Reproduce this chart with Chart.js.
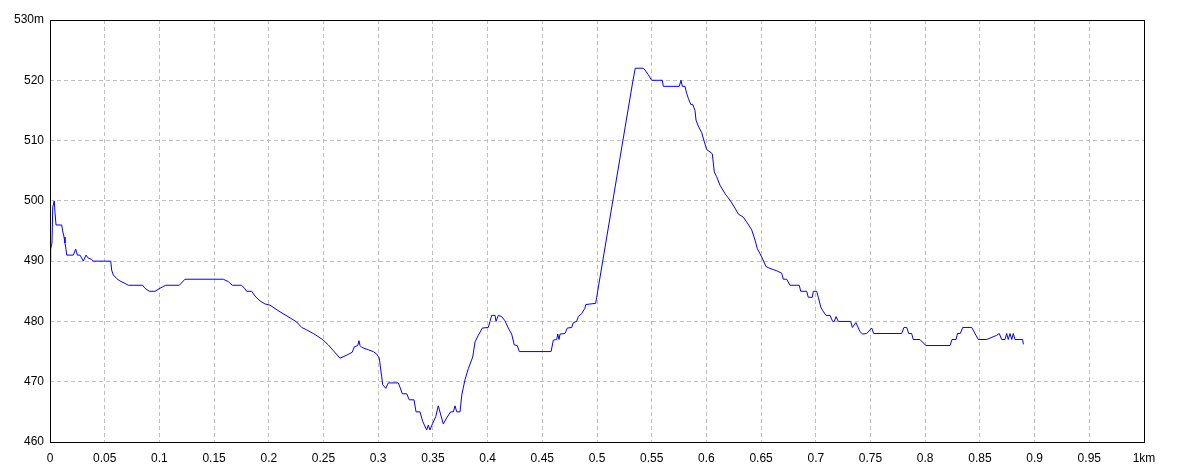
<!DOCTYPE html>
<html>
<head>
<meta charset="utf-8">
<script src="https://cdn.jsdelivr.net/npm/chart.js@4"></script>
<style>
  html, body { margin: 0; padding: 0; background: #fff; }
  #wrap { width: 1184px; height: 473px; }
</style>
</head>
<body>
<div id="wrap"><canvas id="profile" width="1184" height="473"></canvas></div>
<script>
// distance along the track (km)
const distKm = [
  0.0003, 0.0006, 0.0018, 0.0025, 0.0039, 0.0046, 0.0055, 0.0107, 0.0116, 0.0128,
  0.0137, 0.0146, 0.0153, 0.0213, 0.0235, 0.0250, 0.0274, 0.0290, 0.0304, 0.0329,
  0.0350, 0.0381, 0.0396, 0.0555, 0.0564, 0.0579, 0.0610, 0.0640, 0.0686, 0.0716,
  0.0847, 0.0868, 0.0908, 0.0960, 0.1005, 0.1058, 0.1182, 0.1234, 0.1584, 0.1630,
  0.1666, 0.1752, 0.1782, 0.1798, 0.1844, 0.1874, 0.1920, 0.1965, 0.2011, 0.2102,
  0.2194, 0.2255, 0.2301, 0.2346, 0.2407, 0.2484, 0.2544, 0.2651, 0.2712, 0.2763,
  0.2782, 0.2813, 0.2824, 0.2834, 0.2849, 0.2910, 0.2955, 0.2986, 0.3010, 0.3032,
  0.3041, 0.3069, 0.3092, 0.3184, 0.3199, 0.3220, 0.3261, 0.3284, 0.3327, 0.3346,
  0.3382, 0.3407, 0.3443, 0.3458, 0.3473, 0.3498, 0.3526, 0.3549, 0.3595, 0.3626,
  0.3663, 0.3687, 0.3702, 0.3718, 0.3748, 0.3764, 0.3793, 0.3824, 0.3864, 0.3885,
  0.3915, 0.3952, 0.4006, 0.4022, 0.4037, 0.4068, 0.4077, 0.4098, 0.4129, 0.4159,
  0.4189, 0.4220, 0.4244, 0.4271, 0.4290, 0.4580, 0.4601, 0.4632, 0.4641, 0.4653,
  0.4662, 0.4707, 0.4729, 0.4769, 0.4783, 0.4814, 0.4829, 0.4860, 0.4890, 0.4897,
  0.4988, 0.4997, 0.5329, 0.5350, 0.5423, 0.5439, 0.5469, 0.5500, 0.5597, 0.5606,
  0.5752, 0.5768, 0.5780, 0.5804, 0.5820, 0.5835, 0.5857, 0.5875, 0.5896, 0.5905,
  0.5926, 0.5957, 0.5981, 0.6003, 0.6042, 0.6054, 0.6072, 0.6094, 0.6124, 0.6170,
  0.6216, 0.6261, 0.6292, 0.6337, 0.6368, 0.6414, 0.6444, 0.6465, 0.6505, 0.6545,
  0.6581, 0.6643, 0.6688, 0.6703, 0.6734, 0.6764, 0.6849, 0.6862, 0.6917, 0.6931,
  0.6968, 0.6977, 0.7008, 0.7023, 0.7045, 0.7063, 0.7093, 0.7130, 0.7154, 0.7169,
  0.7185, 0.7206, 0.7319, 0.7334, 0.7367, 0.7404, 0.7429, 0.7465, 0.7511, 0.7529,
  0.7785, 0.7806, 0.7831, 0.7849, 0.7876, 0.7891, 0.7952, 0.8007, 0.8227, 0.8245,
  0.8282, 0.8295, 0.8321, 0.8343, 0.8425, 0.8485, 0.8562, 0.8654, 0.8677, 0.8699,
  0.8729, 0.8745, 0.8759, 0.8775, 0.8791, 0.8805, 0.8821, 0.8891, 0.8897
];

// elevation (m)
const elevM = [
  490, 492, 493, 499, 500, 498, 496, 496, 495, 494,
  493, 492, 491, 491, 492, 491, 491, 490.5, 490, 491,
  490.5, 490.3, 490, 490, 488.5, 487.7, 487.1, 486.7, 486.3, 486,
  486, 485.5, 485, 485, 485.5, 486, 486, 487, 487, 486.6,
  486, 486, 485.4, 485, 485, 484.2, 483.4, 482.9, 482.7, 481.6,
  480.6, 479.9, 479, 478.6, 478, 477.1, 476.1, 473.9, 474.4, 474.9,
  475.8, 476, 476.8, 476, 475.7, 475.3, 475, 474.6, 473.9, 470.8,
  469.5, 468.9, 469.8, 469.8, 469.1, 468, 468, 467, 467, 465,
  465, 463.4, 462, 462.8, 462, 463.1, 464.2, 466, 463, 464,
  465, 465, 466, 465, 465, 467.8, 470.3, 472.2, 474.1, 476.6,
  477.7, 478.9, 479, 480, 481, 481, 480, 481, 480.8, 480.1,
  478.9, 477.9, 476.1, 476, 475, 475, 476.9, 477, 477.9, 477,
  477.9, 478, 478.9, 479, 479.8, 480, 480.8, 481.3, 482.2, 482.8,
  483, 484, 520, 522, 522, 521.7, 520.9, 520, 520, 519,
  519, 520, 519, 519, 517.8, 517, 516, 516, 515, 513.4,
  512.4, 511.3, 509.8, 508.5, 508, 507.8, 504.8, 504, 502.6, 501.2,
  500.1, 498.8, 497.8, 497.3, 496.5, 495.2, 493.5, 492.1, 490.7, 489.1,
  488.8, 488.4, 488, 487, 487, 486, 486, 485, 485, 484,
  484, 485, 485, 484, 482.4, 481.8, 481, 481, 480, 480,
  480.8, 480, 480, 479, 479.8, 478.3, 477.9, 478, 478.9, 478,
  478, 479, 479, 478, 478, 477, 477, 476, 476, 477,
  477, 478, 478, 479, 479, 477, 477, 477.7, 478, 477,
  477, 478, 477, 478, 477, 478, 477, 477, 476.2
];

const xTicks = { min: 0, max: 1, step: 0.05, unit: 'km' };
const yTicks = { min: 460, max: 530, step: 10, unit: 'm' };

const frameBox = {
  id: 'frameBox',
  afterDatasetsDraw(chart) {
    const { ctx, chartArea: a } = chart;
    ctx.save();
    ctx.strokeStyle = '#000';
    ctx.lineWidth = 1;
    const l = Math.round(a.left) + 0.5, t = Math.round(a.top) + 0.5;
    const r = Math.round(a.right) + 0.5, b = Math.round(a.bottom) + 0.5;
    ctx.strokeRect(l, t, r - l, b - t);
    ctx.restore();
  }
};

const font = { family: 'Liberation Sans, Arial, sans-serif', size: 12 };

new Chart(document.getElementById('profile').getContext('2d'), {
  type: 'line',
  data: {
    datasets: [{
      data: distKm.map((d, i) => ({ x: d, y: elevM[i] })),
      borderColor: '#0000ff',
      borderWidth: 1,
      pointRadius: 0,
      tension: 0,
      fill: false
    }]
  },
  options: {
    responsive: false,
    animation: false,
    layout: { padding: { top: 20, right: 40, left: 0, bottom: 0 } },
    plugins: { legend: { display: false }, tooltip: { enabled: false } },
    scales: {
      x: {
        type: 'linear',
        min: xTicks.min,
        max: xTicks.max,
        border: { display: false, dash: [4, 3] },
        grid: { color: '#c0c0c0', drawTicks: false },
        ticks: {
          stepSize: xTicks.step,
          color: '#000',
          font: font,
          padding: 9,
          maxRotation: 0,
          autoSkip: false,
          callback: v => {
            const s = String(Math.round(v * 100) / 100);
            return v === xTicks.max ? s + xTicks.unit : s;
          }
        },
        afterFit: s => { s.height = 31; }
      },
      y: {
        min: yTicks.min,
        max: yTicks.max,
        border: { display: false, dash: [4, 3] },
        grid: { color: '#c0c0c0', drawTicks: false },
        ticks: {
          stepSize: yTicks.step,
          color: '#000',
          font: font,
          padding: 6,
          callback: v => v === yTicks.max ? v + yTicks.unit : String(v)
        },
        afterFit: s => { s.width = 50; }
      }
    }
  },
  plugins: [frameBox]
});
</script>
</body>
</html>
